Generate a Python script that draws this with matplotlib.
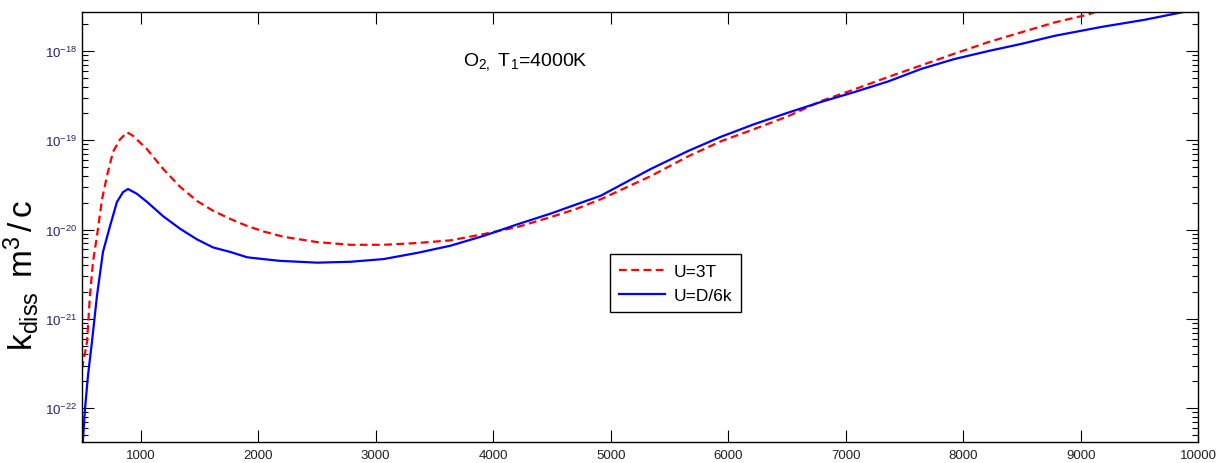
import numpy as np
import matplotlib
matplotlib.use('Agg')
import matplotlib.pyplot as plt
from matplotlib.ticker import FixedLocator, LogLocator, NullFormatter

plt.rcParams['font.family'] = ['Liberation Sans', 'DejaVu Sans']
plt.rcParams['mathtext.fontset'] = 'custom'
plt.rcParams['mathtext.rm'] = 'Liberation Sans'
plt.rcParams['mathtext.it'] = 'Liberation Sans'

# dissociation rate, U=3T model (log10 of k_diss)
t_3t = [500, 543, 568, 594, 628, 671, 713, 764, 824, 884, 935, 1054, 1191,
        1335, 1480, 1617, 1762, 1907, 2043, 2214, 2503, 2785, 3066, 3356,
        3637, 3919, 4208, 4490, 4703, 4916, 5129, 5342, 5658, 5939, 6169,
        6510, 6791, 7073, 7363, 7644, 7925, 8215, 8496, 8778, 9068, 9153,
        9500]
lk_3t = [-21.56, -21.26, -20.74, -20.36, -20.07, -19.66, -19.40, -19.13,
         -18.99, -18.91, -18.95, -19.10, -19.32, -19.52, -19.68, -19.79,
         -19.88, -19.96, -20.02, -20.08, -20.14, -20.17, -20.17, -20.15,
         -20.12, -20.05, -19.97, -19.86, -19.77, -19.66, -19.53, -19.40,
         -19.18, -19.01, -18.90, -18.73, -18.56, -18.43, -18.29, -18.16,
         -18.03, -17.90, -17.79, -17.68, -17.59, -17.55, -17.43]

# dissociation rate, U=D/6k model
t_d6k = [500, 509, 526, 551, 585, 628, 679, 739, 798, 850, 892, 969, 1054,
         1191, 1335, 1480, 1617, 1762, 1907, 2043, 2188, 2503, 2785, 3066,
         3356, 3637, 3919, 4208, 4490, 4703, 4916, 5129, 5342, 5658, 5939,
         6220, 6510, 6791, 7073, 7363, 7644, 7925, 8215, 8496, 8778, 9178,
         9545, 9886, 10000]
lk_d6k = [-22.55, -22.35, -22.01, -21.64, -21.26, -20.74, -20.25, -19.96,
          -19.69, -19.58, -19.545, -19.60, -19.69, -19.85, -19.99, -20.11,
          -20.20, -20.25, -20.31, -20.33, -20.35, -20.37, -20.36, -20.33,
          -20.26, -20.18, -20.07, -19.94, -19.82, -19.72, -19.62, -19.47,
          -19.32, -19.12, -18.96, -18.82, -18.69, -18.57, -18.46, -18.34,
          -18.20, -18.09, -18.00, -17.92, -17.83, -17.73, -17.65, -17.56,
          -17.53]

x_ticks = [1000, 2000, 3000, 4000, 5000, 6000, 7000, 8000, 9000, 10000]
y_decades = [1e-22, 1e-21, 1e-20, 1e-19, 1e-18]

fig = plt.figure(figsize=(12.23, 4.64), dpi=100)
ax = fig.add_axes([0.067, 0.0453, 0.9127, 0.9267])

ax.semilogy(t_3t, 10.0 ** np.array(lk_3t), color='red', ls=(0, (3.5, 2)),
            lw=1.6, label='U=3T')
ax.semilogy(t_d6k, 10.0 ** np.array(lk_d6k), color='blue', ls='-',
            lw=1.6, label='U=D/6k')

ax.set_xlim(500, 10000)
ax.set_ylim(10 ** -22.378, 10 ** -17.563)
ax.set_xticks(x_ticks)
ax.yaxis.set_major_locator(FixedLocator(y_decades))
ax.yaxis.set_minor_locator(LogLocator(base=10, subs=np.arange(2, 10), numticks=100))
ax.yaxis.set_minor_formatter(NullFormatter())

ax.tick_params(which='both', direction='in', top=True, right=True)
ax.tick_params(which='major', length=8.5, width=0.8)
ax.tick_params(which='minor', length=4.5, width=0.8)
ax.tick_params(axis='x', labelsize=9.5, labelcolor='#222222', pad=5)
ax.tick_params(axis='y', labelsize=9.5, labelcolor='#2a1f66')
for sp in ax.spines.values():
    sp.set_linewidth(1.0)

ax.set_ylabel(r'k$_{\mathrm{diss}}$ $\,$m$^{3}$$\,$/$\,$c', fontsize=24)
ax.yaxis.set_label_coords(-0.037, 0.39)
ax.text(0.397, 0.886, r'O$_{2,}$ T$_{1}$=4000K', transform=ax.transAxes,
        fontsize=14, ha='center', va='center')

leg = ax.legend(loc='upper left', bbox_to_anchor=(0.473, 0.437), fontsize=12.5,
                fancybox=False, framealpha=1, edgecolor='black',
                handlelength=2.6, handletextpad=0.5, borderpad=0.55,
                labelspacing=0.5, borderaxespad=0)
leg.get_frame().set_linewidth(1.0)

plt.savefig('out.png', dpi=100)
plt.close()
